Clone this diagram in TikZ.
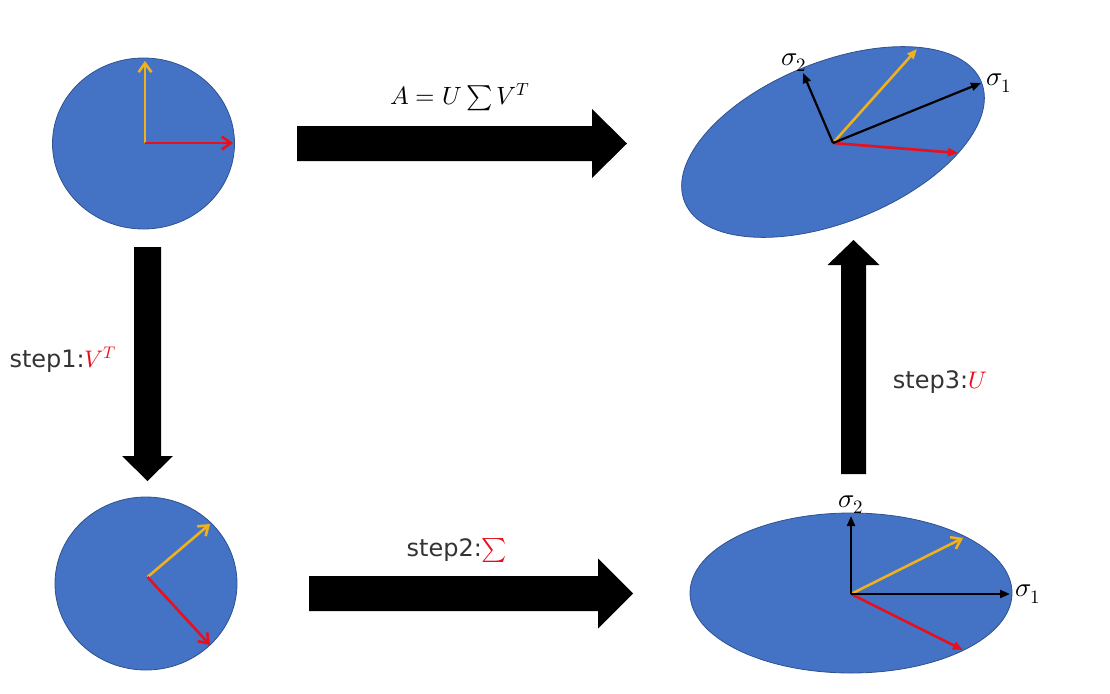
\documentclass[tikz,border=0pt]{standalone}
\usepackage{fontspec}
\usepackage{unicode-math}
\setmathfont{Latin Modern Math}
\setsansfont{DejaVu Sans}
\usetikzlibrary{arrows.meta, calc, positioning}
\definecolor{discBlue}{HTML}{4472C4}
\definecolor{discEdge}{HTML}{2F528F}
\definecolor{vecGold}{HTML}{F0B21C}
\definecolor{vecRed}{HTML}{E8101C}
\newcommand{\openTip}{{Straight Barb[length=9pt, width=13pt]}}
\newcommand{\fillTip}{{Triangle[length=10pt, width=8pt]}}

\begin{document}
\begin{tikzpicture}[x=1pt, y=-1pt, font=\fontsize{25}{29}\selectfont,
	disc/.style={fill=discBlue, draw=discEdge, line width=0.8pt},
	vec/.style={line width=2.6pt},
	sigmalabel/.style={font=\fontsize{27}{31}\selectfont, inner sep=1pt},
	steplabel/.style={font=\sffamily\fontsize{24}{28}\selectfont, text=black!80}]
	\useasboundingbox (0,0) rectangle (1110,693);
	
	% the four discs
	\coordinate (O1) at (145,143);
	\coordinate (O2) at (147.5,577);
	\coordinate (O3) at (851,594);
	\coordinate (O4) at (833,143);
	\draw[disc]	(143.5,143.5) ellipse [x radius=91, y radius=85.5];
	\draw[disc]	(146,583.5) ellipse [x radius=91, y radius=86.5];
	\draw[disc]	(851,593) ellipse [x radius=161, y radius=80];
	\draw[disc]	(833,142) ellipse [x radius=160, y radius=80, rotate=22];
	
	% block arrows
	\foreach \name/\x/\y/\len/\rot/\s/\w/\h in {top/297/143.5/330/0/17.5/34.5/35, bot/309/593.5/324/0/17.5/35/35, left/147.5/247/234/-90/13.5/25.5/25, right/853.5/474/234/90/12.5/26/25} {
		\fill[black, shift={(\x,\y)}, rotate=\rot]	(0,-\s) -- ({\len-\h},-\s) -- ({\len-\h},-\w) -- (\len,0) -- ({\len-\h},\w) -- ({\len-\h},\s) -- (0,\s) -- cycle;
	}
	
	% vectors on the discs
	\draw[vec, vecGold, -\openTip]	(O1) -- (145,61);
	\draw[vec, vecRed, -\openTip]	(O1) -- (233,143);
	\draw[vec, vecGold, -\openTip]	(O2) -- (210,524);
	\draw[vec, vecRed, -\openTip]	(O2) -- (210,645);
	\draw[vec, vecGold, -\openTip]	(O3) -- (963,538);
	\draw[vec, vecRed, -\fillTip]	(O3) -- (963,650);
	\draw[vec, vecGold, -\fillTip]	(O4) -- (917,49);
	\draw[vec, vecRed, -\fillTip]	(O4) -- (958,153);
	
	\foreach \o/\ax/\ay/\bx/\by in {O3/1010/594/851/516, O4/981/83/803/73} {
		\draw[line width=2.2pt, -\fillTip]	(\o) -- (\ax,\ay) coordinate (\o s1);
		\draw[line width=2.2pt, -\fillTip]	(\o) -- (\bx,\by) coordinate (\o s2);
	}
	\node[sigmalabel, right=4pt] (sigmaA) at (O3s1) {$\sigma_1$};
	\node[sigmalabel, above=1pt] (sigmaB) at (O3s2) {$\sigma_2$};
	\node[sigmalabel, right=4pt] (sigmaC) at (O4s1) {$\sigma_1$};
	\node[sigmalabel, above=0pt, xshift=-9pt] (sigmaD) at (O4s2) {$\sigma_2$};
	
	% labels of the steps
	\node (svd) at (460,97) {$A=U\textstyle\sum V^T$};
	\node[steplabel, anchor=west] (step1) at (6,360) {step1:\textcolor{vecRed}{$V^T$}};
	\node[steplabel] (step2) at (457,550) {step2:\textcolor{vecRed}{$\textstyle\sum$}};
	\node[steplabel] (step3) at (940,382) {step3:\textcolor{vecRed}{$U$}};
	
\end{tikzpicture}
\end{document}
